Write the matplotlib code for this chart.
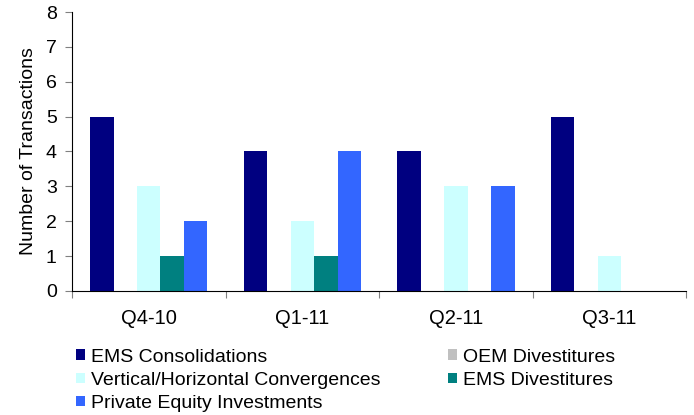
import numpy as np
import matplotlib.pyplot as plt

plt.rcParams['font.family'] = ['Liberation Sans', 'DejaVu Sans']

quarters = ['Q4-10', 'Q1-11', 'Q2-11', 'Q3-11']
series = ['EMS Consolidations', 'OEM Divestitures',
          'Vertical/Horizontal Convergences', 'EMS Divestitures',
          'Private Equity Investments']
ems_consolidations = [5, 4, 4, 5]
oem_divestitures = [0, 0, 0, 0]
vh_convergences = [3, 2, 3, 1]
ems_divestitures = [1, 1, 0, 0]
pe_investments = [2, 4, 3, 0]
colors = ['#000080', '#C0C0C0', '#CCFFFF', '#008080', '#3366FF']

values = [ems_consolidations, oem_divestitures, vh_convergences,
          ems_divestitures, pe_investments]

fig = plt.figure(figsize=(6.94, 4.15), dpi=100)
ax = fig.add_axes([0.1037, 0.299, 0.885, 0.672])

x = np.arange(len(quarters))
w = 0.153
bars = []
for i, (name, vals, c) in enumerate(zip(series, values, colors)):
    b = ax.bar(x + (i - 2) * w, vals, w, color=c, label=name)
    bars.append(b)

ax.set_xlim(-0.5, len(quarters) - 0.5)
ax.set_ylim(0, 8)
ax.set_yticks(range(0, 9))
ax.set_xticks(np.arange(len(quarters) + 1) - 0.5)
ax.set_xticklabels([])
ax.set_xticks(x, minor=True)
ax.set_xticklabels(quarters, minor=True)
ax.tick_params(axis='x', which='minor', length=0, pad=13, labelsize=14.5)
ax.tick_params(axis='x', which='major', length=5, color='#808080')
ax.tick_params(axis='y', length=5, color='#808080', labelsize=14, pad=6)
ax.spines['top'].set_visible(False)
ax.spines['right'].set_visible(False)
ax.set_ylabel('Number of Transactions', fontsize=14, labelpad=6)

order = [0, 2, 4, 1, 3]
fig.legend([bars[i] for i in order], [series[i] for i in order],
           loc='upper left', bbox_to_anchor=(0.1095, 0.16), ncol=2,
           frameon=False, fontsize=14, handlelength=0.46, handleheight=0.46,
           handletextpad=0.3, columnspacing=3.5, labelspacing=0.32,
           borderaxespad=0, borderpad=0)

plt.savefig('out.png', dpi=100)
